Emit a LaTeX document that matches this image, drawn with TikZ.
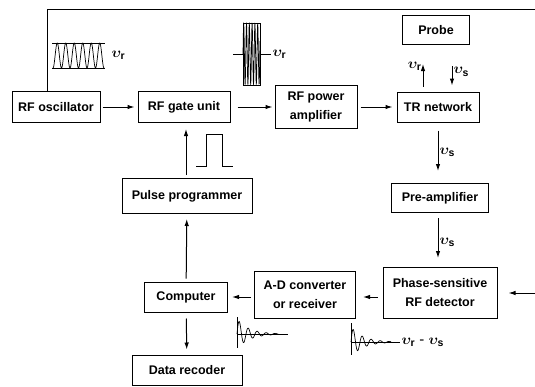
\documentclass[tikz,border=0pt]{standalone}
\usepackage{fontspec}
\setmainfont{Liberation Sans}
\usepackage{amsmath}
\usepackage{tikz}
\usetikzlibrary{arrows.meta}

\begin{document}
\begin{tikzpicture}[x=1pt, y=-1pt, line width=1pt, >={Latex[length=7pt,width=4.5pt]},
    unit/.style={draw, align=center, inner sep=2pt, font=\fontsize{12.5}{19}\selectfont\bfseries},
    lbl/.style={inner sep=1pt, font=\fontsize{15}{17}\selectfont\boldmath},
    wave/.style={line width=0.7pt}]
  \useasboundingbox (0,0) rectangle (535,386);
  % blocks
  \node[unit, minimum width=88pt, minimum height=31pt] (osc) at (56,107) {RF oscillator};
  \node[unit, minimum width=92pt, minimum height=31pt] (gate) at (184,107) {RF gate unit};
  \node[unit, minimum width=82pt, minimum height=43pt] (amp) at (316,107) {RF power\\amplifier};
  \node[unit, minimum width=82pt, minimum height=30pt] (TR) at (438,107) {TR network};
  \node[unit, minimum width=67pt, minimum height=29pt] (probe) at (436,30) {Probe};
  \node[unit, minimum width=97pt, minimum height=29pt] (pre) at (440,198) {Pre-amplifier};
  \node[unit, minimum width=114pt, minimum height=51pt] (PSD) at (440,293) {Phase-sensitive\\RF detector};
  \node[unit, minimum width=101pt, minimum height=47pt] (AD) at (305,295) {A-D converter\\or receiver};
  \node[unit, minimum width=83pt, minimum height=30pt] (comp) at (186,297) {Computer};
  \node[unit, minimum width=110pt, minimum height=30pt] (data) at (187,370) {Data recoder};
  \node[unit, minimum width=130pt, minimum height=35pt] (pulse) at (187,196) {Pulse programmer};
  \coordinate (topend) at (535,9);
  \coordinate (rin) at (535,293);

  % signal path
  \draw[->, shorten <=2pt, shorten >=3pt] (osc) -- (gate);
  \draw[->, shorten <=7pt, shorten >=2pt] (gate) -- (amp);
  \draw[->, shorten <=3pt, shorten >=4pt] (amp) -- (TR);
  \draw[->, shorten <=5pt, shorten >=19pt] ([xshift=-15pt]TR.north) -- ([xshift=-13pt]probe.south)
    node[lbl, pos=0.55, left] {$\upsilon_\mathrm{r}$};
  \draw[->] ([xshift=16pt, yshift=-21pt]probe.south) -- ([xshift=14pt, yshift=6pt]TR.north)
    node[lbl, pos=0.3, right] {$\upsilon_\mathrm{s}$};
  \draw[->, shorten <=8pt, shorten >=12pt] (TR.south) -- (TR.south |- pre.north)
    node[lbl, midway, right] {$\upsilon_\mathrm{s}$};
  \draw[->, shorten <=5pt, shorten >=9pt] (pre.south -| TR.south) -- (TR.south |- PSD.north)
    node[lbl, pos=0.55, right] {$\upsilon_\mathrm{s}$};
  \draw[->, shorten >=11pt] (rin) -- (PSD.east |- rin);
  \draw[->, shorten <=5pt, shorten >=7pt] (PSD.west |- comp) -- (AD.east |- comp);
  \draw[->, shorten <=3pt, shorten >=4pt] (AD.west |- comp) -- (comp.east);
  \draw[->, shorten <=6pt, shorten >=5pt] (comp) -- (data);
  \draw[->, shorten <=3pt, shorten >=5pt] (comp) -- (pulse);
  \draw[->, shorten <=3pt, shorten >=6pt] (pulse.north -| comp) -- (comp |- gate.south);
  \draw ([xshift=-9pt]osc.north) |- (topend);

  % waveforms
  \draw[wave] (52,43) -- (105,43) (52,68) -- (105,68);
  \draw[wave] plot[domain=0:51, samples=160, smooth] ({53+\x},{55.5+12.5*cos(\x/8.5*360)});
  \node[lbl, anchor=west] (vosc) at (110,55) {$\upsilon_\mathrm{r}$};

  \draw[wave] (243,23) rectangle (260,85);
  \draw[wave] plot[domain=0:17, samples=220] ({243+\x},{54-30*sin(\x/2.8*360)});
  \draw[wave] (233,54) -- (243,54) (260,54) -- (271,54);
  \node[lbl, anchor=west] (vgate) at (271,54) {$\upsilon_\mathrm{r}$};

  \draw[wave] (196,166) -- (206,166) -- (206,134) -- (222,134) -- (222,166) -- (233,166);

  \draw[wave] (237,317) -- (237,348) (237,334) -- (288,334);
  \draw[wave] plot[domain=0:42, samples=160, smooth] ({237+\x},{334-15*exp(-\x/12)*sin(\x/9*360)});

  \draw[wave] (351,323) -- (351,355) (351,342) -- (400,342);
  \draw[wave] plot[domain=0:40, samples=160, smooth] ({351+\x},{342-15*exp(-\x/12)*sin(\x/9*360)});
  \node[lbl, anchor=west] (vdiff) at (400,342) {$\upsilon_\mathrm{r}$ - $\upsilon_\mathrm{s}$};
\end{tikzpicture}
\end{document}
